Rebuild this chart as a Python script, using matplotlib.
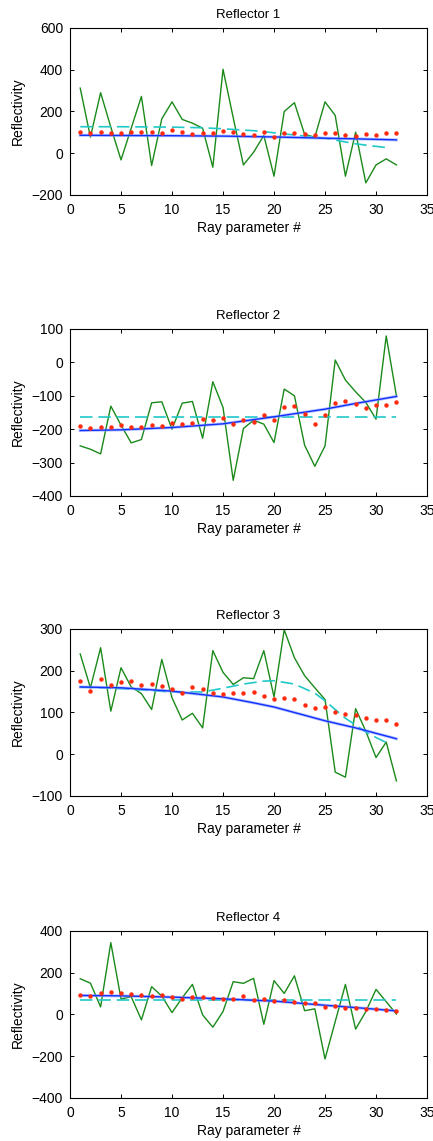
import numpy as np
import matplotlib
matplotlib.use('Agg')
import matplotlib.pyplot as plt
import matplotlib.ticker as ticker

plt.rcParams['font.family'] = ['Liberation Sans', 'DejaVu Sans']

ray = np.arange(1, 33)

# Reflector 1
r1_data = [312, 77, 290, 125, -32, 120, 272, -59, 165, 246, 162, 144, 120, -67, 402, 170,
           -56, 5, 85, -110, 200, 242, 90, 77, 246, 181, -110, 101, -142, -56, -27, -56]
r1_dots = [101, 96, 104, 96, 99, 104, 104, 101, 98, 112, 101, 94, 98, 98, 107, 101,
           93, 88, 102, 80, 99, 96, 90, 86, 99, 96, 86, 83, 91, 88, 96, 96]
r1_fit_x = [1, 5, 10, 15, 20, 25, 28, 32]
r1_fit = [86, 85, 84, 82, 78, 72, 69, 64]
r1_smooth_x = [1, 5, 10, 13, 15, 18, 20, 23, 25, 28, 31]
r1_smooth = [127, 127, 125, 122, 117, 108, 98, 82, 72, 45, 27]

# Reflector 2
r2_data = [-250, -260, -274, -131, -188, -241, -231, -121, -118, -200, -122, -117, -227, -58, -135, -353,
           -198, -173, -185, -240, -80, -100, -248, -311, -250, 7, -53, -88, -120, -170, 79, -100]
r2_dots = [-191, -196, -192, -194, -188, -192, -194, -188, -189, -183, -186, -182, -169, -173, -166, -184,
           -173, -178, -157, -172, -135, -130, -154, -184, -158, -121, -116, -126, -136, -127, -129, -120]
r2_fit_x = [1, 5, 10, 15, 20, 25, 28, 32]
r2_fit = [-204, -202, -195, -184, -163, -140, -123, -102]
r2_smooth_x = [1, 32]
r2_smooth = [-165, -165]

# Reflector 3
r3_data = [240, 159, 255, 103, 207, 161, 145, 107, 227, 135, 82, 98, 63, 248, 196, 167,
           183, 181, 248, 137, 298, 231, 188, 159, 131, -43, -55, 109, 55, -8, 29, -64]
r3_dots = [176, 151, 179, 166, 173, 175, 165, 168, 164, 155, 147, 160, 157, 146, 143, 147,
           146, 149, 139, 132, 134, 132, 119, 110, 112, 101, 96, 93, 86, 83, 81, 72]
r3_fit_x = [1, 5, 10, 15, 18, 20, 25, 28, 32]
r3_fit = [161, 159, 151, 137, 123, 113, 80, 63, 37]
r3_smooth_x = [1, 5, 10, 13, 15, 17, 19, 20, 22, 24, 25, 26, 27, 28, 29, 30, 31]
r3_smooth = [161, 157, 149, 149, 158, 168, 175, 176, 168, 146, 128, 107, 86, 70, 53, 40, 28]

# Reflector 4
r4_data = [171, 150, 36, 344, 74, 85, -26, 133, 88, 9, 80, 144, -2, -61, 14, 157,
           149, 173, -47, 162, 101, 185, 18, 27, -213, -34, 144, -70, 14, 120, 61, 2]
r4_dots = [93, 88, 101, 106, 104, 98, 92, 90, 93, 82, 76, 85, 84, 77, 76, 76,
           87, 69, 74, 66, 69, 61, 54, 54, 36, 39, 31, 31, 26, 26, 23, 17]
r4_fit_x = [1, 5, 10, 15, 18, 20, 25, 28, 32]
r4_fit = [91, 89, 83, 75, 68, 64, 44, 33, 17]
r4_smooth_x = [1, 32]
r4_smooth = [70, 70]

titles = ['Reflector 1', 'Reflector 2', 'Reflector 3', 'Reflector 4']
ylims = [(-200, 600), (-400, 100), (-100, 300), (-400, 400)]
ysteps = [200, 100, 100, 200]

panels = [
    (r1_data, r1_dots, r1_fit_x, r1_fit, r1_smooth_x, r1_smooth),
    (r2_data, r2_dots, r2_fit_x, r2_fit, r2_smooth_x, r2_smooth),
    (r3_data, r3_dots, r3_fit_x, r3_fit, r3_smooth_x, r3_smooth),
    (r4_data, r4_dots, r4_fit_x, r4_fit, r4_smooth_x, r4_smooth),
]

fig = plt.figure(figsize=(4.33, 11.41), dpi=100)
bottoms = [0.8291, 0.5653, 0.3024, 0.0377]

for k, (data, dots, fx, fit, sx, smooth) in enumerate(panels):
    ax = fig.add_axes([0.1617, bottoms[k], 0.8245, 0.1464])

    # raw values, smoothed trend, polynomial fit (with light halo), averages
    ax.plot(ray, data, color='#1a8a1a', linewidth=1.0, zorder=2)
    ax.plot(sx, smooth, color='#20c8c8', linewidth=1.2,
            dashes=(7.5, 3.5), zorder=3)
    ax.plot(fx, fit, color='#8a9cff', linewidth=2.2, alpha=0.6, zorder=3)
    ax.plot(fx, fit, color='#1030ff', linewidth=1.0, zorder=4)
    ax.plot(ray, dots, linestyle='none', marker='o', markersize=3.2,
            markerfacecolor='#ff2a10', markeredgecolor='none', zorder=5)

    ax.set_xlim(0, 35)
    ax.set_ylim(*ylims[k])
    ax.xaxis.set_major_locator(ticker.MultipleLocator(5))
    ax.yaxis.set_major_locator(ticker.MultipleLocator(ysteps[k]))
    ax.tick_params(direction='in', top=True, right=True, length=3,
                   width=0.7, labelsize=10)
    ax.tick_params(axis='x', pad=6)
    ax.tick_params(axis='y', pad=5)
    for spine in ax.spines.values():
        spine.set_linewidth(0.8)

    ax.set_title(titles[k], fontsize=9.5, pad=7)
    ax.set_xlabel('Ray parameter #', fontsize=10, labelpad=3)
    ax.set_ylabel('Reflectivity', fontsize=10, labelpad=5)

fig.savefig('out.png', dpi=100)
